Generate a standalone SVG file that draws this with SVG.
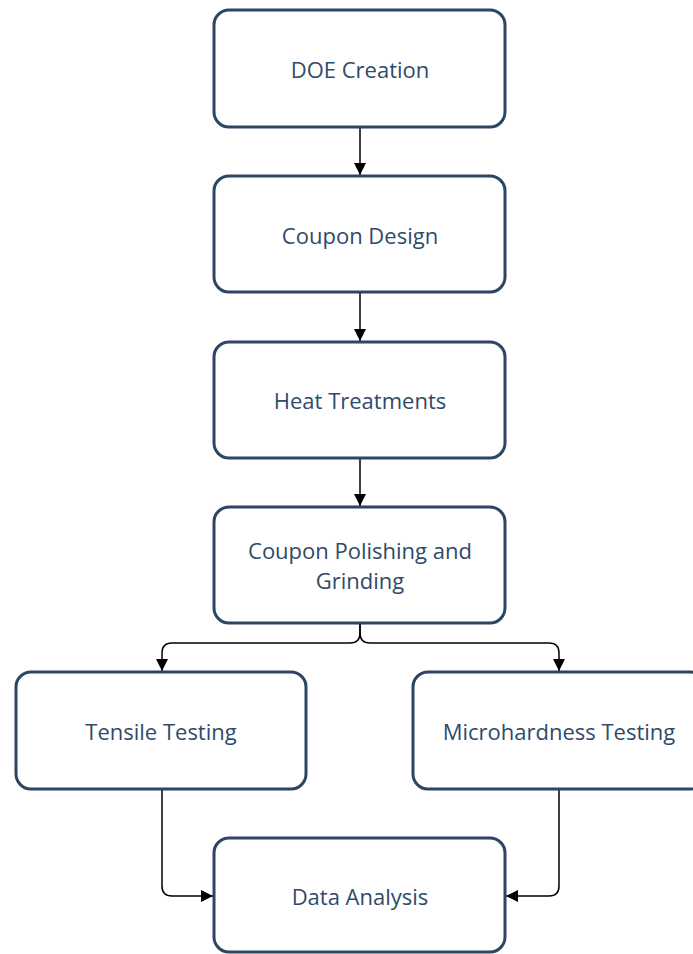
<svg xmlns="http://www.w3.org/2000/svg" width="693" height="954" viewBox="0 0 693 954">
<style>
.box{fill:#ffffff;stroke:#2c4563;stroke-width:3}
.lbl{font-family:"Open Sans",Lato,sans-serif;font-size:22px;fill:#2f4a6a;text-anchor:middle}
.con{fill:none;stroke:#000000;stroke-width:1.5}
</style>
<defs>
<marker id="ah" viewBox="0 0 10 10" refX="10" refY="5" markerWidth="12" markerHeight="12" markerUnits="userSpaceOnUse" orient="auto">
<path d="M0,0 L10,5 L0,10 Z" fill="#000"/>
</marker>
</defs>
<rect width="693" height="954" fill="#ffffff"/>
<g id="connectors">
<path class="con" d="M360,127 V175" marker-end="url(#ah)"/>
<path class="con" d="M360,292 V341" marker-end="url(#ah)"/>
<path class="con" d="M360,458 V506" marker-end="url(#ah)"/>
<path class="con" d="M360,623 V633 Q360,643 350,643 H172 Q162,643 162,653 V671" marker-end="url(#ah)"/>
<path class="con" d="M360,623 V633 Q360,643 370,643 H549 Q559,643 559,653 V671" marker-end="url(#ah)"/>
<path class="con" d="M162,789 V886 Q162,896 172,896 H213" marker-end="url(#ah)"/>
<path class="con" d="M559,789 V886 Q559,896 549,896 H506" marker-end="url(#ah)"/>
</g>
<g id="n1"><rect class="box" x="214" y="10" width="291" height="117" rx="15"/><text class="lbl" x="360" y="78">DOE Creation</text></g>
<g id="n2"><rect class="box" x="214" y="176" width="291" height="116" rx="15"/><text class="lbl" x="360" y="244">Coupon Design</text></g>
<g id="n3"><rect class="box" x="214" y="342" width="291" height="116" rx="15"/><text class="lbl" x="360" y="409">Heat Treatments</text></g>
<g id="n4"><rect class="box" x="214" y="507" width="291" height="116" rx="15"/><text class="lbl" x="360" y="559">Coupon Polishing and</text><text class="lbl" x="360" y="589">Grinding</text></g>
<g id="n5"><rect class="box" x="16" y="672" width="290" height="117" rx="15"/><text class="lbl" x="161" y="740">Tensile Testing</text></g>
<g id="n6"><rect class="box" x="413" y="672" width="292" height="117" rx="15"/><text class="lbl" x="559" y="740">Microhardness Testing</text></g>
<g id="n7"><rect class="box" x="214" y="838" width="291" height="114" rx="15"/><text class="lbl" x="360" y="905">Data Analysis</text></g>
</svg>
